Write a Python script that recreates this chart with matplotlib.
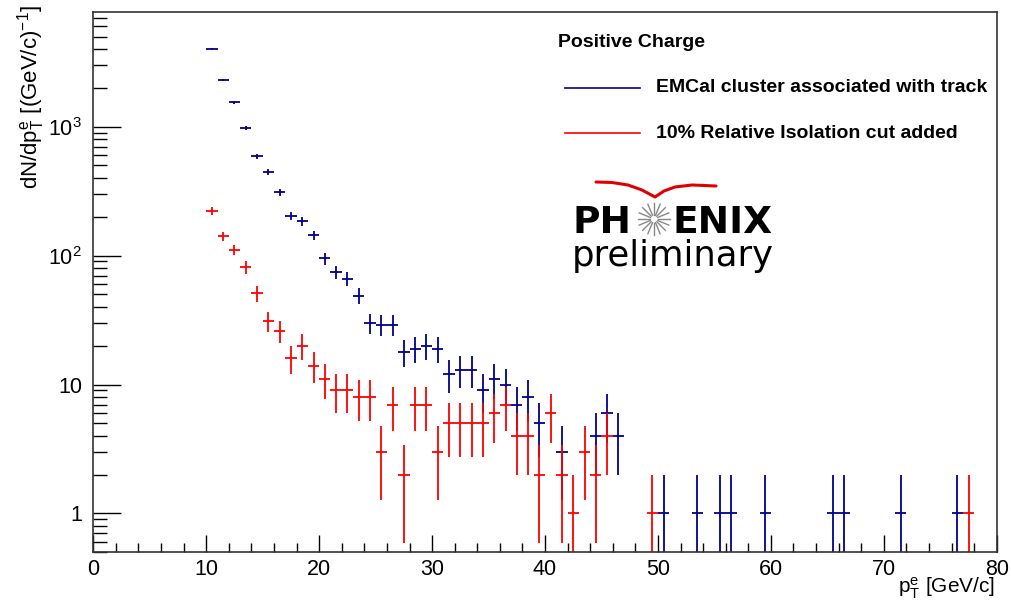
import numpy as np
import matplotlib
matplotlib.use('Agg')
import matplotlib.pyplot as plt
from matplotlib.ticker import MultipleLocator, LogLocator, FuncFormatter, NullFormatter

plt.rcParams['font.family'] = ['Liberation Sans', 'DejaVu Sans']
plt.rcParams['mathtext.fontset'] = 'custom'
plt.rcParams['mathtext.rm'] = 'Liberation Sans'
plt.rcParams['mathtext.it'] = 'Liberation Sans:italic'
plt.rcParams['mathtext.bf'] = 'Liberation Sans:bold'

# bin centres (1 GeV/c bins) and counts
pt_emcal = [10.5, 11.5, 12.5, 13.5, 14.5, 15.5, 16.5, 17.5, 18.5, 19.5,
            20.5, 21.5, 22.5, 23.5, 24.5, 25.5, 26.5, 27.5, 28.5, 29.5,
            30.5, 31.5, 32.5, 33.5, 34.5, 35.5, 36.5, 37.5, 38.5, 39.5,
            41.5, 44.5, 45.5, 46.5, 50.5, 53.5, 55.5, 56.5, 59.5, 65.5,
            66.5, 71.5, 76.5]
n_emcal = [4030, 2310, 1550, 980, 590, 445, 310, 202, 184, 144,
           95, 74, 66, 49, 30, 29, 29, 18, 19, 20,
           19, 12, 13, 13, 9, 11, 10, 7, 8, 5,
           3, 4, 6, 4, 1, 1, 1, 1, 1, 1,
           1, 1, 1]

pt_iso = [10.5, 11.5, 12.5, 13.5, 14.5, 15.5, 16.5, 17.5, 18.5, 19.5,
          20.5, 21.5, 22.5, 23.5, 24.5, 25.5, 26.5, 27.5, 28.5, 29.5,
          30.5, 31.5, 32.5, 33.5, 34.5, 35.5, 36.5, 37.5, 38.5, 39.5,
          40.5, 41.5, 42.5, 43.5, 44.5, 45.5, 49.5, 77.5]
n_iso = [222, 141, 111, 81, 51, 31, 26, 16, 20, 14,
         11, 9, 9, 8, 8, 3, 7, 2, 7, 7,
         3, 5, 5, 5, 5, 6, 7, 4, 4, 2,
         6, 2, 1, 3, 2, 4, 1, 1]

legend_title = 'Positive Charge'
labels = ['EMCal cluster associated with track', '10% Relative Isolation cut added']
colors = ['#00008f', '#ff0000']

fig = plt.figure(figsize=(10.11, 6.01), dpi=100)
ax = fig.add_axes([0.0923, 0.081, 0.8936, 0.8985])


def draw_hist(x, n, col):
    x = np.array(x)
    n = np.array(n, dtype=float)
    err = np.sqrt(n)
    lo = n - np.maximum(n - err, 1e-3)
    ax.errorbar(x, n, xerr=0.5, yerr=[lo, err], fmt='none', ecolor=col,
                elinewidth=1.3, capsize=0)


draw_hist(pt_emcal, n_emcal, colors[0])
draw_hist(pt_iso, n_iso, colors[1])

ax.set_yscale('log')
ax.set_xlim(0, 80)
ax.set_ylim(0.5, 7700)

ax.xaxis.set_major_locator(MultipleLocator(10))
ax.xaxis.set_minor_locator(MultipleLocator(2))
ax.yaxis.set_major_locator(LogLocator(base=10, numticks=10))
ax.yaxis.set_minor_locator(LogLocator(base=10, subs=np.arange(2, 10), numticks=20))
ax.yaxis.set_minor_formatter(NullFormatter())


def ylab(v, pos):
    if v < 1.5:
        return '1'
    if v < 15:
        return '10'
    return '$10^{%d}$' % int(round(np.log10(v)))


ax.yaxis.set_major_formatter(FuncFormatter(ylab))
ax.tick_params(axis='x', which='major', direction='in', length=12, width=1, pad=5, labelsize=15.5)
ax.tick_params(axis='x', which='minor', direction='in', length=6.5, width=1)
ax.tick_params(axis='y', which='major', direction='in', length=20, width=1, pad=8, labelsize=15.5)
ax.tick_params(axis='y', which='minor', direction='in', length=10, width=1)
ax.tick_params(top=False, right=False, which='both')
for s in ax.spines.values():
    s.set_linewidth(1.2)
    s.set_color('#333333')

fig.text(0.031, 0.992, r'dN/dp$_{\mathrm{T}}^{\mathrm{e}}$ [(GeV/c)$^{-1}$]', rotation=90,
         ha='center', va='top', fontsize=16)
fig.text(0.984, 0.0, r'p$_{\mathrm{T}}^{\mathrm{e}}$ [GeV/c]', ha='right', va='bottom',
         fontsize=15)

# legend
ax.text(0.514, 0.945, legend_title, transform=ax.transAxes, fontsize=14,
        fontweight='bold', va='center', ha='left')
for i, (lab, col) in enumerate(zip(labels, colors)):
    yy = 0.860 - i * 0.084
    ax.plot([0.522, 0.605], [yy, yy], color=col, lw=1.2, transform=ax.transAxes)
    ax.text(0.623, yy, lab, transform=ax.transAxes, fontsize=14,
            fontweight='bold', va='center', ha='left')


# PHENIX preliminary logo
def px(x, y):
    return x / 1011, 1 - y / 601


fig.text(*px(573, 233), 'PH', fontsize=27, fontweight='bold',
         family='DejaVu Sans', ha='left', va='baseline')
fig.text(*px(672, 233), 'ENIX', fontsize=27, fontweight='bold',
         family='DejaVu Sans', ha='left', va='baseline')
fig.text(*px(572, 266), 'preliminary', fontsize=25.5,
         family='DejaVu Sans', ha='left', va='baseline')
cx, cy = 654, 219
for a in np.linspace(0, 2 * np.pi, 16, endpoint=False):
    x0, y0 = px(cx + 4 * np.cos(a), cy + 4 * np.sin(a))
    x1, y1 = px(cx + 16 * np.cos(a), cy + 16 * np.sin(a))
    fig.add_artist(plt.Line2D([x0, x1], [y0, y1], color='#888888', lw=1.0,
                              transform=fig.transFigure))
sw_x = [596, 612, 628, 642, 655, 664, 675, 692, 716]
sw_y = [182, 182.5, 185, 190, 197, 191, 187, 185, 186]
pts = [px(a, b) for a, b in zip(sw_x, sw_y)]
fig.add_artist(plt.Line2D([p[0] for p in pts], [p[1] for p in pts], color='#e00000',
                          lw=2.2, transform=fig.transFigure, solid_capstyle='round'))

fig.savefig('out.png', dpi=100)
